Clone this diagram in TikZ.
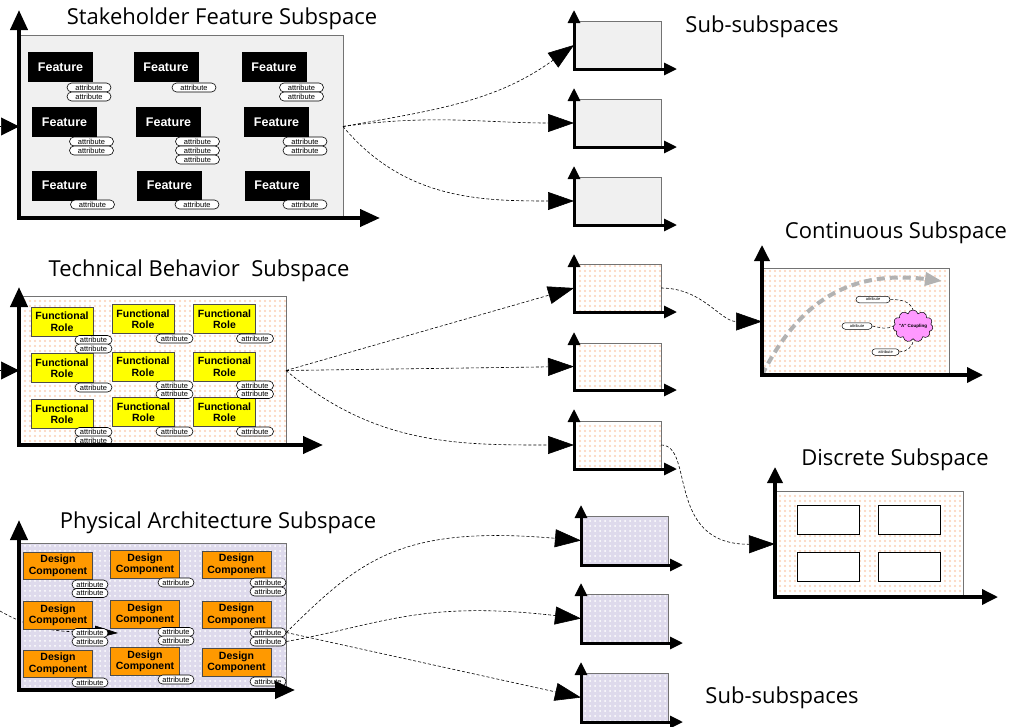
\documentclass[tikz,border=0pt]{standalone}
\usepackage{fontspec}
\setmainfont{Open Sans}
\newfontfamily\arialfont{Liberation Sans}
\usetikzlibrary{arrows.meta,shapes.misc,shapes.symbols,patterns.meta}
%
\definecolor{boxgray}{RGB}{240,240,240}
\definecolor{peachdot}{RGB}{252,208,182}
\definecolor{lilac}{RGB}{222,218,236}
\definecolor{dcorange}{RGB}{255,153,0}
\definecolor{rolefill}{RGB}{255,255,0}
\definecolor{cloudpink}{RGB}{255,153,255}
%
\tikzset{
  panel/.style={inner sep=0pt, outer sep=0pt, draw=black!55, line width=0.8pt},
  graypanel/.style={panel, fill=boxgray},
  peachpanel/.style={panel, preaction={fill=white}, pattern={Dots[distance=5pt,radius=1.2pt]}, pattern color=peachdot},
  lilacpanel/.style={panel, preaction={fill=lilac}, pattern={Dots[distance=5pt,radius=1pt]}, pattern color=white},
  feat/.style={fill=black, text=white, inner sep=0pt, minimum width=65pt, minimum height=30pt,
    font=\arialfont\bfseries\fontsize{12.5}{12.5}\selectfont},
  role/.style={draw=black!70, fill=rolefill, line width=0.8pt, inner sep=0pt, align=center,
    minimum width=62pt, minimum height=29pt, font=\arialfont\bfseries\fontsize{10.5}{11.5}\selectfont},
  comp/.style={role, fill=dcorange, minimum width=69pt, minimum height=27.5pt},
  attr/.style={rounded rectangle, draw, fill=white, line width=0.6pt, inner sep=0pt,
    minimum width=#1, minimum height=9pt, font=\arialfont\fontsize{7.5}{7.5}\selectfont},
  attr/.default=44pt,
  cattr/.style={rounded rectangle, draw, fill=white, line width=0.5pt, inner sep=0pt,
    minimum width=#1, minimum height=6.5pt, font=\arialfont\fontsize{4}{4}\selectfont},
  cell/.style={draw, fill=white, line width=0.8pt, minimum width=62pt, minimum height=29pt},
  ttl/.style={font=\fontsize{22}{22}\selectfont},
  bigaxis/.style={line width=4pt, {Triangle[length=20pt,width=17pt]}-{Triangle[length=20pt,width=17pt]}},
  medaxis/.style={line width=3.5pt, {Triangle[length=16pt,width=15pt]}-{Triangle[length=16pt,width=15pt]}},
  smallaxis/.style={line width=3pt, {Triangle[length=13pt,width=12pt]}-{Triangle[length=13pt,width=12pt]}},
  link/.style={densely dashed, line width=0.6pt, -{Triangle[length=26pt,width=18pt]}},
  inlink/.style={line width=0.6pt, -{Triangle[length=18pt,width=18pt]}},
  tie/.style={densely dashed, line width=0.5pt},
}
%
\begin{document}
\begin{tikzpicture}[x=1pt,y=-1pt]
\useasboundingbox (0,0) rectangle (1026,726);
%
% titles
\node[ttl] (t1) at (222,19) {Stakeholder Feature Subspace};
\node[ttl] (t2) at (199,271) {Technical Behavior\ \ Subspace};
\node[ttl] (t3) at (218,523) {Physical Architecture Subspace};
\node[ttl] (t4) at (762,27) {Sub-subspaces};
\node[ttl] (t5) at (782,698) {Sub-subspaces};
\node[ttl] (t6) at (896,233) {Continuous Subspace};
\node[ttl] (t7) at (895,460) {Discrete Subspace};
%
% stakeholder feature subspace
\node[graypanel, minimum width=324pt, minimum height=183pt] (sfs) at (181,126.5) {};
\node[feat] (f1) at (60.5,67) {Feature};
\node[feat] (f2) at (166,67) {Feature};
\node[feat] (f3) at (274,67) {Feature};
\node[feat] (f4) at (64.5,122) {Feature};
\node[feat] (f5) at (168.5,122) {Feature};
\node[feat] (f6) at (276.5,122) {Feature};
\node[feat] (f7) at (64.5,185.5) {Feature};
\node[feat] (f8) at (169.5,185.5) {Feature};
\node[feat] (f9) at (277,185.5) {Feature};
\node[attr] (a1a) at (89,87.5) {attribute};
\node[attr] (a1b) at (89,96.5) {attribute};
\node[attr] (a2) at (194,87.5) {attribute};
\node[attr] (a3a) at (301.5,87.5) {attribute};
\node[attr] (a3b) at (301.5,96.5) {attribute};
\node[attr] (a4a) at (91.5,141.5) {attribute};
\node[attr] (a4b) at (91.5,150.5) {attribute};
\node[attr] (a5a) at (197.5,141.5) {attribute};
\node[attr] (a5b) at (197.5,150.5) {attribute};
\node[attr] (a5c) at (197.5,159.5) {attribute};
\node[attr] (a6a) at (305,141.5) {attribute};
\node[attr] (a6b) at (305,150.5) {attribute};
\node[attr] (a7) at (92.5,204.5) {attribute};
\node[attr] (a8) at (197,204.5) {attribute};
\node[attr] (a9) at (305,204.5) {attribute};
\draw[bigaxis] (19,10) -- (19,218) -- (380,218);
%
% technical behavior subspace
\node[peachpanel, minimum width=267pt, minimum height=149pt] (tbs) at (152.5,370.5) {};
\node[role] (r1) at (62,321.5) {Functional\\Role};
\node[role] (r2) at (143,319) {Functional\\Role};
\node[role] (r3) at (224.5,319) {Functional\\Role};
\node[role] (r4) at (62,368) {Functional\\Role};
\node[role] (r5) at (143,366.5) {Functional\\Role};
\node[role] (r6) at (224.5,366.5) {Functional\\Role};
\node[role] (r7) at (62,414) {Functional\\Role};
\node[role] (r8) at (143.5,412) {Functional\\Role};
\node[role] (r9) at (224.5,412) {Functional\\Role};
\node[attr=37pt] (b1a) at (93.5,340) {attribute};
\node[attr=37pt] (b1b) at (93.5,348.5) {attribute};
\node[attr=37pt] (b2) at (174.5,338.5) {attribute};
\node[attr=37pt] (b3) at (255,338.5) {attribute};
\node[attr=37pt] (b4) at (93.5,387.5) {attribute};
\node[attr=37pt] (b5a) at (174.5,385.5) {attribute};
\node[attr=37pt] (b5b) at (174.5,394) {attribute};
\node[attr=37pt] (b6a) at (255,385.5) {attribute};
\node[attr=37pt] (b6b) at (255,394) {attribute};
\node[attr=37pt] (b7a) at (93.5,432) {attribute};
\node[attr=37pt] (b7b) at (93.5,440.5) {attribute};
\node[attr=37pt] (b8) at (174.5,431.5) {attribute};
\node[attr=37pt] (b9) at (255,431.5) {attribute};
\draw[bigaxis] (19,287) -- (19,445) -- (323,445);
%
% physical architecture subspace
\node[lilacpanel, minimum width=267pt, minimum height=147pt] (pas) at (152.5,616.5) {};
\coordinate (pin) at (118,633);
\draw[densely dashed, line width=0.6pt, -{Triangle[length=23pt,width=13pt]}] (0,611) to[out=-30,in=178] (pin);
\node[comp] (d1) at (58,566) {Design\\Component};
\node[comp] (d2) at (145,564.5) {Design\\Component};
\node[comp] (d3) at (236.5,565) {Design\\Component};
\node[comp] (d4) at (58,615.5) {Design\\Component};
\node[comp] (d5) at (145,614.5) {Design\\Component};
\node[comp] (d6) at (236.5,615) {Design\\Component};
\node[comp] (d7) at (58,664) {Design\\Component};
\node[comp] (d8) at (145,661.5) {Design\\Component};
\node[comp] (d9) at (236.5,662.5) {Design\\Component};
\node[attr=36pt] (c1a) at (90,584.5) {attribute};
\node[attr=36pt] (c1b) at (90,593) {attribute};
\node[attr=36pt] (c2) at (176,582.5) {attribute};
\node[attr=36pt] (c3a) at (268,582.5) {attribute};
\node[attr=36pt] (c3b) at (268,591.5) {attribute};
\node[attr=36pt] (c4a) at (90,633) {attribute};
\node[attr=36pt] (c4b) at (90,641.5) {attribute};
\node[attr=36pt] (c5a) at (176,632) {attribute};
\node[attr=36pt] (c5b) at (176,640.5) {attribute};
\node[attr=36pt] (c6a) at (268,632.5) {attribute};
\node[attr=36pt] (c6b) at (268,641.5) {attribute};
\node[attr=36pt] (c7) at (90,682.5) {attribute};
\node[attr=36pt] (c8) at (176,679.5) {attribute};
\node[attr=36pt] (c9) at (268,681.5) {attribute};
\draw[bigaxis] (19,520) -- (19,690) -- (295,690);
%
% sub-subspaces
\node[graypanel, minimum width=87pt, minimum height=48pt] (s1) at (617.5,45) {};
\node[graypanel, minimum width=87pt, minimum height=48pt] (s2) at (617.5,123) {};
\node[graypanel, minimum width=87pt, minimum height=48pt] (s3) at (617.5,201) {};
\node[peachpanel, minimum width=87pt, minimum height=48pt] (s4) at (617.5,288) {};
\node[peachpanel, minimum width=87pt, minimum height=47pt] (s5) at (617.5,366.5) {};
\node[peachpanel, minimum width=87pt, minimum height=48pt] (s6) at (617.5,445) {};
\node[lilacpanel, minimum width=87pt, minimum height=49pt] (s7) at (624.5,540.5) {};
\node[lilacpanel, minimum width=87pt, minimum height=49pt] (s8) at (624.5,618.5) {};
\node[lilacpanel, minimum width=87pt, minimum height=49pt] (s9) at (624.5,697.5) {};
\draw[smallaxis] ([yshift=11pt]s1.north west) -- (s1.south west) -- ([xshift=16pt]s1.south east);
\draw[smallaxis] ([yshift=11pt]s2.north west) -- (s2.south west) -- ([xshift=16pt]s2.south east);
\draw[smallaxis] ([yshift=11pt]s3.north west) -- (s3.south west) -- ([xshift=16pt]s3.south east);
\draw[smallaxis] ([yshift=10pt]s4.north west) -- (s4.south west) -- ([xshift=16pt]s4.south east);
\draw[smallaxis] ([yshift=11pt]s5.north west) -- (s5.south west) -- ([xshift=16pt]s5.south east);
\draw[smallaxis] ([yshift=12pt]s6.north west) -- (s6.south west) -- ([xshift=16pt]s6.south east);
\draw[smallaxis] ([yshift=11pt]s7.north west) -- (s7.south west) -- ([xshift=15pt]s7.south east);
\draw[smallaxis] ([yshift=11pt]s8.north west) -- (s8.south west) -- ([xshift=15pt]s8.south east);
\draw[smallaxis] ([yshift=11pt]s9.north west) -- (s9.south west) -- ([xshift=15pt]s9.south east);
%
% continuous subspace
\node[peachpanel, minimum width=187pt, minimum height=107pt] (cs) at (855.5,321.5) {};
\draw[gray!60, line width=4pt, dash pattern=on 8pt off 5pt, -{Triangle[length=17pt,width=13pt]}]
  (cs.south west) .. controls (800,300) and (850,270) .. (942,281);
\node[cloud, cloud puffs=11, aspect=1.2, draw, fill=cloudpink, line width=0.5pt, inner sep=0pt,
  minimum width=40pt, minimum height=32pt,
  label={[font=\arialfont\bfseries\fontsize{4.5}{4.5}\selectfont]center:"A" Coupling}] (cp) at (913,326) {};
\node[cattr=34pt] (ca1) at (873,299.5) {attribute};
\node[cattr=30pt] (ca2) at (857,326) {attribute};
\node[cattr=27pt] (ca3) at (885.5,352) {attribute};
\draw[tie] (ca1.east) to[out=0,in=110] (cp.north);
\draw[tie] (ca2.east) to[out=-10,in=210] (cp.west);
\draw[tie] (ca3.east) to[out=0,in=-85] (cp.south);
\draw[medaxis] (762,245) -- (762,375) -- (983,375);
%
% discrete subspace
\node[peachpanel, minimum width=188pt, minimum height=106pt] (ds) at (869,544) {};
\node[cell] (e1) at (828,519.5) {};
\node[cell] (e2) at (909,519.5) {};
\node[cell] (e3) at (828,566.5) {};
\node[cell] (e4) at (909,566.5) {};
\draw[medaxis] (775,467) -- (775,597) -- (998,597);
%
% inputs from the left
\coordinate (in1) at (0,126.5);
\coordinate (in2) at (0,370.5);
\draw[inlink] (in1) -- (sfs.west);
\draw[inlink] (in2) -- (tbs.west);
%
% links between the spaces
\draw[link] (sfs.east) to[out=10,in=216] (s1.west);
\draw[link] (sfs.east) to[out=8,in=180] (s2.west);
\draw[link] (sfs.east) to[out=-50,in=180] (s3.west);
\draw[link] (tbs.east) -- (s4.west);
\draw[link] (tbs.east) -- (s5.west);
\draw[link] (tbs.east) to[out=-40,in=180] (s6.west);
\draw[link] (c6a.east) .. controls (360,560) and (400,525) .. (s7.west);
\draw[link] (c6b.east) .. controls (380,625) and (420,600) .. (s8.west);
\draw[link] (c6a.east) -- (s9.west);
\draw[link] (s4.east) to[out=0,in=180] (cs.west);
\draw[link] (s6.east) .. controls (695,445) and (665,545) .. (ds.west);
%
\end{tikzpicture}
\end{document}
